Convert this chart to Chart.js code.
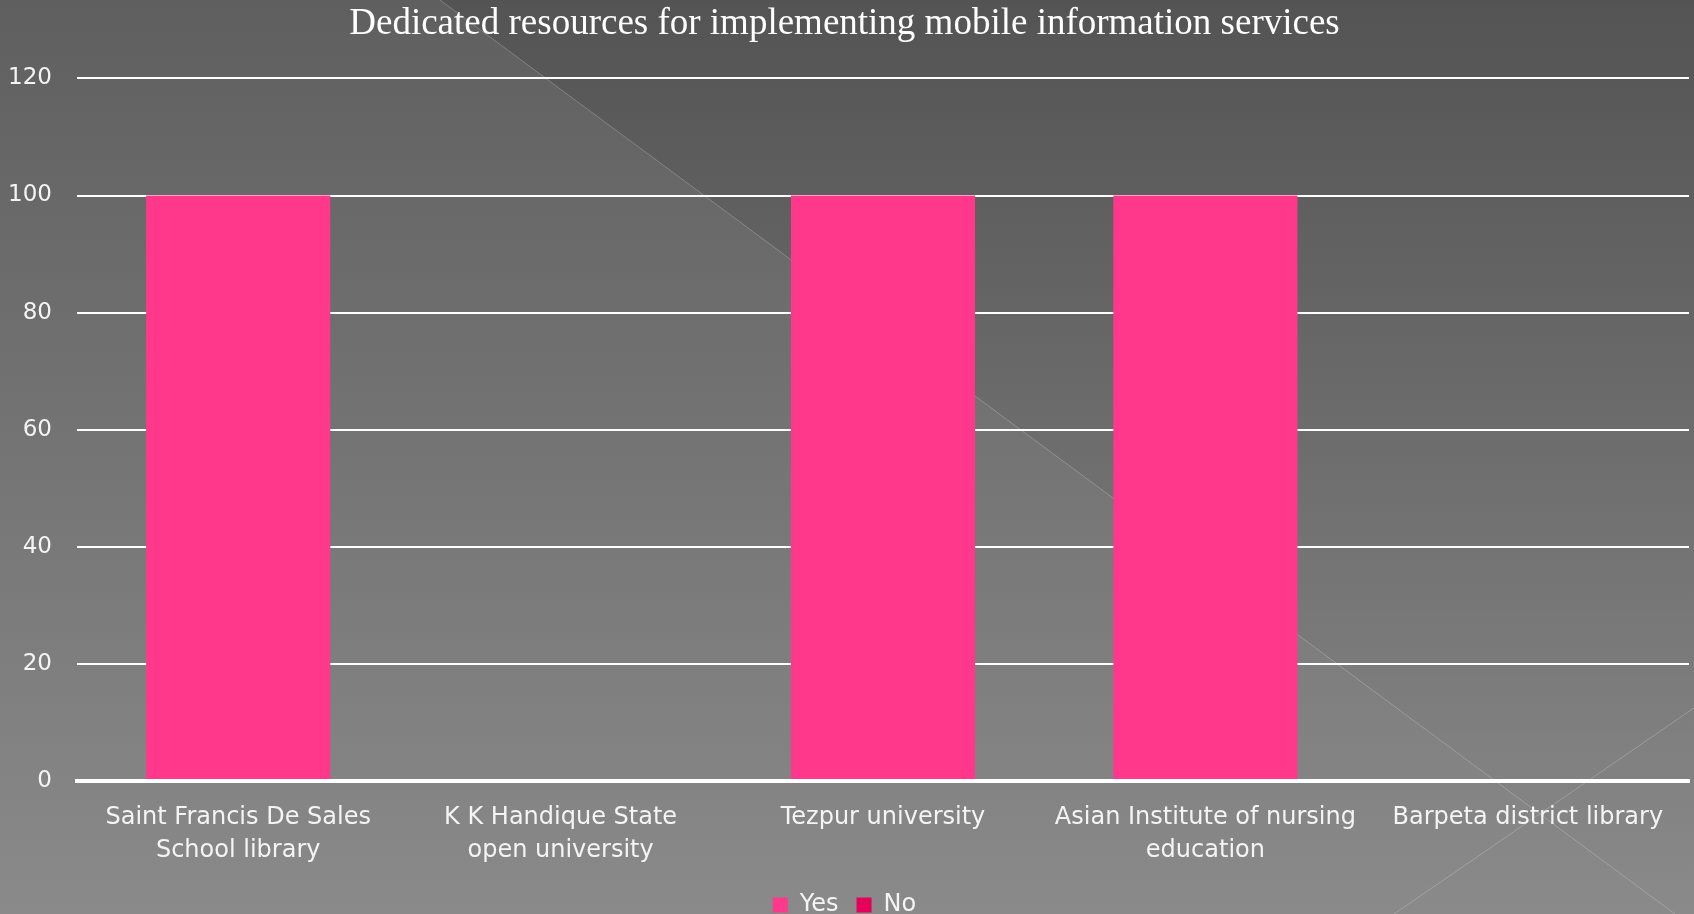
<!DOCTYPE html>
<html>
<head>
<meta charset="utf-8">
<script src="https://cdn.jsdelivr.net/npm/chart.js@4.4.0/dist/chart.umd.min.js"></script>
<style>
  html, body { margin: 0; padding: 0; background: #6e6e6e; }
  #wrap { width: 1694px; height: 914px; }
</style>
</head>
<body>
<div id="wrap"><canvas id="chart" width="1694" height="914"></canvas></div>
<script>
// chart data
var categories = [
  ["Saint Francis De Sales", "School library"],
  ["K K Handique State", "open university"],
  "Tezpur university",
  ["Asian Institute of nursing", "education"],
  "Barpeta district library"
];
var yesValues = [100, 0, 100, 100, 0];
var noValues = [0, 0, 0, 0, 0];
var yTicks = [0, 20, 40, 60, 80, 100, 120];

var labelFont = "'DejaVu Sans', Lato, sans-serif";
var textColor = "#f4f4f4";

// slide-like background: grey gradient with thin diagonal strokes
var slideBackground = {
  id: "slideBackground",
  beforeDraw: function(chart) {
    var c = chart.ctx, w = chart.width, h = chart.height;
    c.save();
    var g = c.createLinearGradient(0, 0, 0, h);
    g.addColorStop(0, "#5f5f5f");
    g.addColorStop(1, "#8a8a8a");
    c.fillStyle = g;
    c.fillRect(0, 0, w, h);

    // darker wedge to the upper right
    var d = c.createLinearGradient(0, 0, 0, h);
    d.addColorStop(0, "rgba(0,0,0,0.12)");
    d.addColorStop(0.8, "rgba(0,0,0,0.02)");
    d.addColorStop(1, "rgba(0,0,0,0)");
    c.beginPath();
    c.moveTo(440, 0);
    c.lineTo(1675, 914);
    c.lineTo(w, h);
    c.lineTo(w, 0);
    c.closePath();
    c.fillStyle = d;
    c.fill();

    c.strokeStyle = "rgba(255,255,255,0.22)";
    c.lineWidth = 1;
    c.beginPath();
    c.moveTo(440, 0);
    c.lineTo(1675, 914);
    c.stroke();
    c.beginPath();
    c.moveTo(1394, 914);
    c.lineTo(1694, 708);
    c.stroke();
    c.restore();
  }
};

var ctx = document.getElementById("chart").getContext("2d");

var chart = new Chart(ctx, {
  type: "bar",
  data: {
    labels: categories,
    datasets: [
      {
        label: "Yes",
        data: yesValues,
        backgroundColor: "#ff388b",
        borderWidth: 0,
        grouped: false,
        categoryPercentage: 1,
        barPercentage: 0.571
      },
      {
        label: "No",
        data: noValues,
        backgroundColor: "#e6005a",
        borderWidth: 0,
        grouped: false,
        categoryPercentage: 1,
        barPercentage: 0.571
      }
    ]
  },
  options: {
    responsive: false,
    animation: false,
    devicePixelRatio: 1,
    // negative bottom padding lets the legend sit low like the slide
    layout: { padding: { left: 0, right: 5, top: 0, bottom: -13 } },
    plugins: {
      title: {
        display: true,
        text: "Dedicated resources for implementing mobile information services",
        color: "#ffffff",
        font: { family: "'Liberation Serif', 'Times New Roman', serif", size: 37, weight: "normal" },
        padding: { top: 2, bottom: 32 }
      },
      legend: {
        position: "bottom",
        labels: {
          color: textColor,
          font: { family: labelFont, size: 24 },
          boxWidth: 15,
          boxHeight: 15,
          padding: 18
        }
      },
      tooltip: { enabled: false }
    },
    scales: {
      x: {
        afterFit: function(axis) { axis.height = 94; },
        grid: { display: false },
        border: { display: true, color: "#ffffff", width: 4 },
        ticks: {
          color: textColor,
          font: { family: labelFont, size: 24, lineHeight: 1.38 },
          padding: 12,
          maxRotation: 0,
          autoSkip: false
        }
      },
      y: {
        min: 0,
        max: 120,
        afterBuildTicks: function(axis) {
          axis.ticks = yTicks.map(function(v) { return { value: v }; });
        },
        afterFit: function(axis) { axis.width = 77; },
        grid: {
          color: "#ffffff",
          lineWidth: function(c) { return c.tick && c.tick.value === 0 ? 4 : 2; },
          drawTicks: false
        },
        border: { display: false },
        ticks: {
          color: textColor,
          font: { family: labelFont, size: 23 },
          padding: 25
        }
      }
    }
  },
  plugins: [slideBackground]
});
</script>
</body>
</html>
